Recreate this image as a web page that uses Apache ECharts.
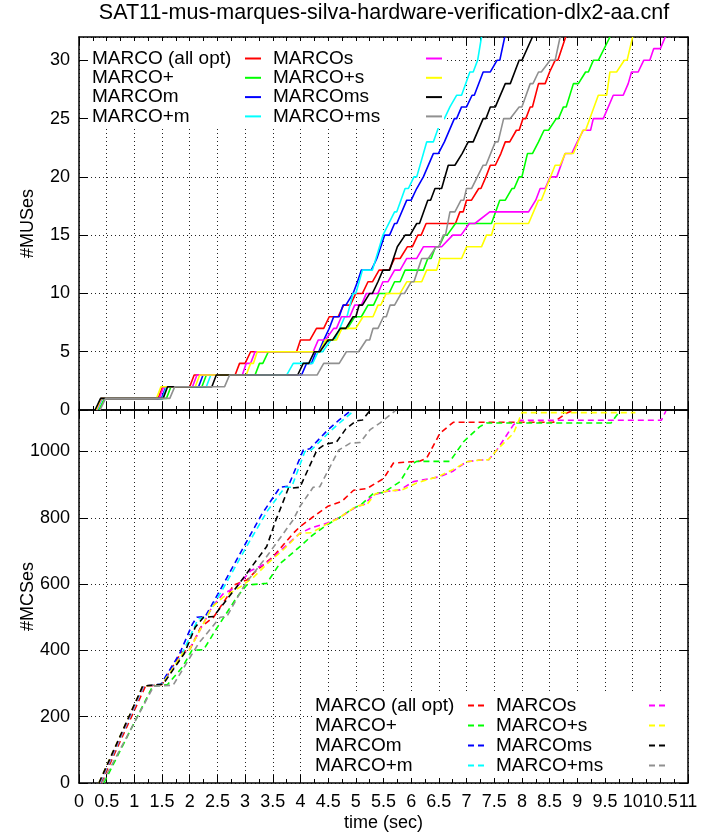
<!DOCTYPE html>
<html>
<head>
<meta charset="utf-8">
<script src="https://cdn.jsdelivr.net/npm/echarts@6/dist/echarts.min.js"></script>
<style>
html,body{margin:0;padding:0;background:#fff;}
#chart{width:703px;height:838px;}
</style>
</head>
<body>
<div id="chart"></div>
<script>
// ---------- data ----------
const chartTitle = 'SAT11-mus-marques-silva-hardware-verification-dlx2-aa.cnf';
const seriesNames = ['MARCO (all opt)', 'MARCO+', 'MARCOm', 'MARCO+m', 'MARCOs', 'MARCO+s', 'MARCOms', 'MARCO+ms'];
const seriesColors = ['#ff0000', '#00ff00', '#0000ff', '#00ffff', '#ff00ff', '#ffff00', '#000000', '#909090'];
const xTicks = [0, 11, 0.5];        // min, max, step (seconds)
const musAxis = [0, 32, 5];         // min, max, step
const mcsAxis = [0, 1125, 200];     // min, max, step

// #MUSes over time  [time, count]
const mus_allopt = [[0.32,0],[0.41,1],[1.43,1],[1.51,2],[2.0,2],[2.08,3],[2.82,3],[2.9,4],[3.0,4],[3.1,5],[3.93,5],[4.0,6],[4.17,6],[4.29,7],[4.42,7],[4.52,8],[4.68,8],[4.78,9],[4.9,9],[5.0,10],[5.12,10],[5.22,11],[5.3,11],[5.42,12],[5.6,12],[5.7,13],[5.8,13],[5.93,14],[6.02,14],[6.12,15],[6.18,15],[6.27,16],[6.8,16],[6.88,17],[6.94,17],[7.0,18],[7.09,18],[7.22,19],[7.26,19],[7.35,20],[7.38,20],[7.43,21],[7.52,21],[7.62,22],[7.65,22],[7.7,23],[7.78,23],[7.9,24],[7.95,24],[8.02,25],[8.07,25],[8.15,26],[8.19,26],[8.3,28],[8.42,28],[8.5,29],[8.53,29],[8.6,30],[8.65,30],[8.79,32]];
const mus_plus = [[0.36,0],[0.46,1],[1.58,1],[1.66,2],[2.22,2],[2.3,3],[3.18,3],[3.26,4],[3.32,4],[3.42,5],[4.35,5],[4.45,6],[4.6,6],[4.72,7],[4.85,7],[4.98,8],[5.1,8],[5.22,9],[5.32,9],[5.42,10],[5.6,10],[5.7,11],[5.8,11],[5.89,12],[6.22,12],[6.3,13],[6.36,13],[6.44,14],[6.5,14],[6.6,15],[6.65,15],[6.8,16],[7.45,16],[7.6,18],[7.7,18],[7.82,19],[7.86,19],[7.95,20],[8.0,20],[8.1,22],[8.19,22],[8.3,23],[8.33,23],[8.4,24],[8.48,24],[8.62,25],[8.66,25],[8.75,26],[8.8,26],[8.93,28],[9.02,28],[9.15,29],[9.2,29],[9.29,30],[9.38,30],[9.59,32]];
const mus_m = [[0.31,0],[0.4,1],[1.49,1],[1.57,2],[2.16,2],[2.24,3],[4.02,3],[4.11,4],[4.2,4],[4.28,5],[4.33,5],[4.42,6],[4.45,6],[4.52,7],[4.55,7],[4.6,8],[4.7,8],[4.77,9],[4.82,9],[4.95,10],[4.98,10],[5.03,11],[5.06,11],[5.1,12],[5.28,12],[5.38,13],[5.41,13],[5.52,15],[5.61,15],[5.7,16],[5.74,16],[5.92,18],[6.0,18],[6.1,19],[6.13,19],[6.22,20],[6.25,20],[6.4,22],[6.49,22],[6.6,23],[6.63,23],[6.78,25],[6.82,25],[6.91,26],[7.0,26],[7.1,27],[7.14,27],[7.3,29],[7.43,29],[7.55,30],[7.6,30],[7.69,32]];
const mus_pm = [[0.33,0],[0.42,1],[1.51,1],[1.58,2],[2.3,2],[2.38,3],[3.75,3],[3.87,4],[4.22,4],[4.32,5],[4.4,5],[4.55,6],[4.62,6],[4.71,7],[4.8,8],[4.84,8],[4.95,10],[5.0,10],[5.12,12],[5.3,12],[5.49,15],[5.7,17],[5.74,17],[5.89,19],[5.95,19],[6.05,20],[6.1,20],[6.28,23],[6.4,23],[6.55,25],[6.6,25],[6.7,26],[6.82,27],[6.91,27],[7.06,29],[7.12,29],[7.2,30],[7.27,32]];
const mus_s = [[0.32,0],[0.41,1],[1.45,1],[1.53,2],[2.05,2],[2.13,3],[2.95,3],[3.02,4],[3.1,4],[3.18,5],[4.23,5],[4.32,6],[4.45,6],[4.6,7],[4.65,7],[4.74,8],[4.89,8],[4.98,9],[5.1,9],[5.19,10],[5.4,10],[5.49,11],[5.58,11],[5.7,12],[5.8,12],[5.92,13],[6.1,13],[6.22,14],[6.55,14],[6.75,15],[6.9,15],[7.05,16],[7.15,16],[7.42,17],[8.12,17],[8.25,18],[8.33,19],[8.42,19],[8.51,20],[8.63,20],[8.78,22],[8.9,22],[9.0,23],[9.11,24],[9.24,24],[9.29,25],[9.47,25],[9.65,27],[9.83,27],[9.92,28],[9.98,29],[10.1,29],[10.2,30],[10.31,30],[10.38,31],[10.5,31],[10.59,32]];
const mus_ps = [[0.31,0],[0.4,1],[1.4,1],[1.48,2],[2.1,2],[2.18,3],[3.02,3],[3.1,4],[3.15,4],[3.22,5],[4.35,5],[4.45,6],[4.65,6],[4.75,7],[5.0,7],[5.13,8],[5.31,8],[5.4,9],[5.45,9],[5.55,10],[5.8,10],[5.92,11],[6.19,11],[6.28,12],[6.46,12],[6.52,13],[6.91,13],[7.0,14],[7.27,14],[7.36,15],[7.45,15],[7.51,16],[8.12,16],[8.3,18],[8.35,18],[8.6,21],[8.69,21],[8.78,22],[8.93,22],[9.1,24],[9.15,24],[9.38,27],[9.53,27],[9.59,29],[9.71,29],[9.85,30],[9.9,30],[10.0,32]];
const mus_ms = [[0.29,0],[0.39,1],[1.52,1],[1.6,2],[2.4,2],[2.48,3],[3.95,3],[4.05,4],[4.15,4],[4.25,5],[4.35,5],[4.5,6],[4.58,6],[4.72,7],[4.82,7],[4.95,8],[5.0,8],[5.06,9],[5.12,9],[5.25,10],[5.3,10],[5.4,11],[5.43,11],[5.49,12],[5.61,12],[5.75,14],[5.78,14],[5.89,15],[5.98,15],[6.1,16],[6.15,16],[6.3,18],[6.35,18],[6.43,19],[6.55,19],[6.67,21],[6.79,21],[6.92,22],[6.95,22],[7.03,23],[7.12,23],[7.3,25],[7.35,25],[7.43,26],[7.52,26],[7.7,28],[7.79,28],[7.95,30],[8.0,30],[8.19,32]];
const mus_pms = [[0.38,0],[0.48,1],[1.64,1],[1.73,2],[2.63,2],[2.72,3],[4.3,3],[4.42,4],[4.7,4],[4.83,5],[5.05,5],[5.19,6],[5.25,6],[5.31,7],[5.4,7],[5.5,8],[5.55,8],[5.62,9],[5.7,9],[5.82,10],[5.88,10],[6.0,11],[6.05,11],[6.12,12],[6.15,12],[6.19,13],[6.31,13],[6.45,14],[6.5,14],[6.58,15],[6.62,15],[6.7,17],[6.79,17],[6.9,18],[6.95,18],[7.0,19],[7.09,19],[7.3,21],[7.35,21],[7.52,23],[7.57,23],[7.67,25],[7.79,25],[7.95,26],[8.0,26],[8.15,28],[8.2,28],[8.3,29],[8.35,29],[8.51,30],[8.6,30],[8.69,32]];

// #MCSes over time  [time, count]
const mcs_allopt = [[0.4,0],[1.2,292],[1.5,297],[1.85,395],[1.88,400],[2.0,402],[2.2,470],[2.43,500],[2.67,560],[2.79,597],[3.03,612],[3.2,640],[3.51,683],[3.7,720],[3.87,753],[3.99,773],[4.23,803],[4.5,835],[4.75,850],[4.96,883],[5.2,888],[5.5,918],[5.68,965],[6.16,971],[6.28,980],[6.52,1055],[6.76,1088],[8.57,1088],[8.81,1116],[8.9,1122]];
const mcs_plus = [[0.45,0],[1.33,292],[1.6,297],[1.87,350],[2.04,400],[2.25,402],[2.5,470],[2.85,560],[3.03,597],[3.39,602],[3.62,660],[3.99,713],[4.2,745],[4.47,778],[4.7,800],[4.96,829],[5.1,840],[5.32,874],[5.5,876],[5.8,909],[5.98,959],[6.1,970],[6.7,970],[6.95,1030],[7.24,1075],[7.36,1086],[9.61,1086],[9.77,1122]];
const mcs_m = [[0.37,0],[1.16,292],[1.48,298],[1.82,391],[2.05,480],[2.13,500],[2.28,502],[2.55,582],[3.0,720],[3.3,810],[3.63,892],[3.78,895],[4.05,1004],[4.17,1008],[4.5,1066],[4.7,1095],[4.9,1122]];
const mcs_pm = [[0.38,0],[1.17,292],[1.5,298],[1.85,385],[2.15,495],[2.3,500],[2.58,580],[3.05,720],[3.4,820],[3.72,892],[3.84,892],[4.08,1000],[4.2,1005],[4.5,1055],[4.7,1085],[4.96,1122]];
const mcs_s = [[0.37,0],[1.16,292],[1.5,297],[1.88,390],[1.98,400],[2.15,450],[2.4,530],[2.6,570],[2.85,592],[3.1,640],[3.39,663],[3.7,710],[3.99,753],[4.2,770],[4.47,783],[4.7,800],[5.02,834],[5.15,840],[5.32,869],[5.55,879],[5.8,884],[6.04,909],[6.52,924],[6.75,940],[7.0,969],[7.24,974],[7.4,975],[7.55,1005],[7.85,1081],[7.97,1094],[10.52,1094],[10.6,1122]];
const mcs_ps = [[0.36,0],[1.15,292],[1.5,297],[1.88,392],[1.98,398],[2.15,450],[2.4,530],[2.6,560],[2.9,590],[3.15,620],[3.39,660],[3.7,705],[3.99,753],[4.2,755],[4.47,780],[4.7,800],[5.02,836],[5.2,840],[5.35,872],[5.55,880],[5.85,885],[6.1,905],[6.5,925],[6.75,945],[7.0,969],[7.24,974],[7.4,975],[7.55,1005],[7.85,1055],[8.0,1117],[10.05,1117]];
const mcs_ms = [[0.36,0],[1.15,292],[1.52,298],[1.9,390],[2.1,470],[2.25,500],[2.43,502],[2.85,592],[3.39,713],[3.55,790],[3.78,888],[3.99,892],[4.3,1005],[4.45,1022],[4.65,1028],[4.82,1068],[5.0,1092],[5.12,1095],[5.25,1122]];
const mcs_pms = [[0.42,0],[1.35,292],[1.7,295],[2.16,421],[2.55,500],[2.67,502],[3.0,600],[3.39,683],[3.87,794],[3.99,834],[4.23,892],[4.35,894],[4.69,1004],[4.9,1025],[5.08,1027],[5.26,1066],[5.44,1086],[5.71,1122]];

const musData = [mus_allopt, mus_plus, mus_m, mus_pm, mus_s, mus_ps, mus_ms, mus_pms];
const mcsData = [mcs_allopt, mcs_plus, mcs_m, mcs_pm, mcs_s, mcs_ps, mcs_ms, mcs_pms];

// ---------- chart ----------
const FONT = '"Liberation Sans", Arial, Helvetica, sans-serif';
const MCS_SUFFIX = ' [MCS]';
const chart = echarts.init(document.getElementById('chart'), null, {renderer: 'canvas'});

const G0 = {left: 79, top: 37, width: 609, height: 373, containLabel: false, outerBoundsMode: 'none'};
const G1 = {left: 79, top: 410, width: 609, height: 373, containLabel: false, outerBoundsMode: 'none'};

const axisLineStyle = {show: true, onZero: false, lineStyle: {color: '#000', width: 1.5}};
const gridLineStyle = {show: true, lineStyle: {color: '#222', width: 1, type: [1, 3]}};
const fmt = v => String(Math.round(v * 100) / 100);

function xAx(grid, pos, labels, split) {
  return {
    type: 'value', gridIndex: grid, position: pos,
    min: xTicks[0], max: xTicks[1], interval: xTicks[2],
    axisLine: axisLineStyle,
    axisTick: {show: true, inside: true, length: 8, lineStyle: {color: '#000', width: 1}},
    minorTick: {show: true, splitNumber: 2, length: 4, lineStyle: {color: '#000', width: 1}},
    splitLine: split ? gridLineStyle : {show: false},
    axisLabel: labels ? {show: true, margin: 10, color: '#000', fontSize: 18, fontFamily: FONT, formatter: fmt, hideOverlap: false} : {show: false},
    name: labels ? 'time (sec)' : '',
    nameLocation: 'middle', nameGap: 31, nameMoveOverlap: false,
    nameTextStyle: {color: '#000', fontSize: 18, fontFamily: FONT}
  };
}
function yAx(grid, pos, scale, labels, name) {
  return {
    type: 'value', gridIndex: grid, position: pos,
    min: scale[0], max: scale[1], interval: scale[2],
    axisLine: axisLineStyle,
    axisTick: {show: true, inside: true, length: 9, lineStyle: {color: '#000', width: 1}},
    splitLine: labels ? gridLineStyle : {show: false},
    axisLabel: labels ? {show: true, margin: 9, color: '#000', fontSize: 18, fontFamily: FONT, formatter: fmt, showMaxLabel: false} : {show: false},
    name: name || '', nameLocation: 'middle', nameRotate: 90, nameGap: 42, nameMoveOverlap: false,
    nameTextStyle: {color: '#000', fontSize: 18, fontFamily: FONT}
  };
}

const series = [];
seriesNames.forEach((n, i) => {
  series.push({
    name: n, type: 'line', xAxisIndex: 0, yAxisIndex: 0, data: musData[i],
    symbol: 'none', showSymbol: false, animation: false,
    lineStyle: {color: seriesColors[i], width: 1.6, type: 'solid'},
    itemStyle: {color: seriesColors[i]}
  });
});
seriesNames.forEach((n, i) => {
  series.push({
    name: n + MCS_SUFFIX, type: 'line', xAxisIndex: 2, yAxisIndex: 2, data: mcsData[i],
    symbol: 'none', showSymbol: false, animation: false,
    lineStyle: {color: seriesColors[i], width: 1.6, type: [6, 4]},
    itemStyle: {color: seriesColors[i]}
  });
});

const SOLID_ICON = 'path://M0,0h16v2h-16z';
const DASH_ICON = 'path://M0,0h6v2h-6z M10,0h6v2h-6z';
function legend(names, left, top, padding, icon, gap) {
  return {
    data: names, orient: 'vertical', left: left, top: top, align: 'right',
    icon: icon, itemWidth: 16, itemHeight: 2, itemGap: gap, padding: padding,
    backgroundColor: '#fff', selectedMode: false,
    formatter: n => '{a|' + n.replace(MCS_SUFFIX, '') + '}',
    textStyle: {width: 148, color: '#000', fontSize: 19, fontFamily: FONT,
      rich: {a: {align: 'left', color: '#000', fontSize: 19, fontFamily: FONT}}}
  };
}
const mcsNames = seriesNames.map(n => n + MCS_SUFFIX);

chart.setOption({
  animation: false,
  backgroundColor: '#fff',
  grid: [G0, G1],
  xAxis: [xAx(0, 'bottom', false, true), xAx(0, 'top', false, false), xAx(1, 'bottom', true, true), xAx(1, 'top', false, false)],
  yAxis: [yAx(0, 'left', musAxis, true, '#MUSes'), yAx(0, 'right', musAxis, false), yAx(1, 'left', mcsAxis, true, '#MCSes'), yAx(1, 'right', mcsAxis, false)],
  legend: [
    legend(seriesNames.slice(0, 4), 89, 41, [8, 6, 2, 3], SOLID_ICON, 0.3),
    legend(seriesNames.slice(4, 8), 265, 41, [8, 2, 2, 8], SOLID_ICON, 0.3),
    legend(mcsNames.slice(0, 4), 313, 693, [3, 4, 3, 2], DASH_ICON, 1),
    legend(mcsNames.slice(4, 8), 490, 693, [3, 22, 3, 6], DASH_ICON, 1)
  ],
  graphic: [{
    type: 'text', x: 384, y: 2,
    style: {text: chartTitle, fill: '#000', fontSize: 21.5, fontFamily: FONT, textAlign: 'center', textVerticalAlign: 'top'}
  }],
  series: series
});
</script>
</body>
</html>
